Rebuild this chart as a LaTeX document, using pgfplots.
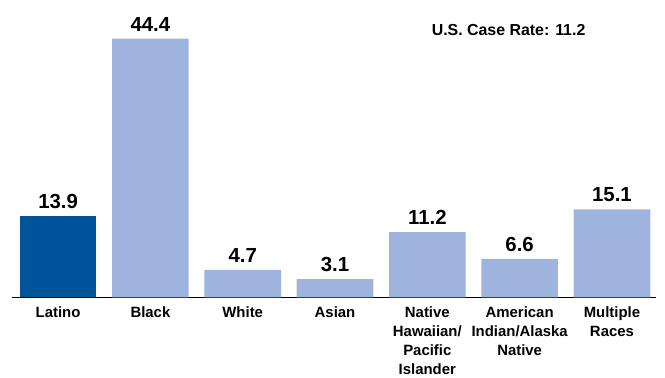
\documentclass[border=0pt]{standalone}
\usepackage{pgfplots}
\pgfplotsset{compat=1.18}
\usepackage{fontspec}
\setmainfont{Liberation Sans}
\definecolor{darkb}{HTML}{005499}
\definecolor{lightb}{HTML}{9EB3DD}
\begin{document}
\begin{tikzpicture}
\begin{axis}[
  scale only axis,
  width=648pt, height=296pt,
  xmin=-0.5, xmax=6.48,
  ymin=0, ymax=50.5,
  axis x line=bottom,
  axis y line=none,
  x axis line style={-, line width=1.6pt, black},
  xtick={0,1,2,3,4,5,6},
  xticklabels={Latino,Black,White,Asian,{Native\\Hawaiian/\\Pacific\\Islander},{American\\Indian/Alaska\\Native},{Multiple\\Races}},
  xticklabel style={font=\bfseries\fontsize{15}{19}\selectfont, align=center, text width=100pt, anchor=north, yshift=-6pt},
  major tick length=0pt,
  ybar, bar width=77pt,
  nodes near coords,
  nodes near coords style={font=\bfseries\fontsize{20.5}{22}\selectfont, anchor=south, yshift=4pt},
  /pgf/number format/.cd, fixed, fixed zerofill, precision=1, assume math mode=true,
]
\addplot[fill=darkb, draw=none, bar shift=0pt] coordinates {(0,13.9)};
\addplot[fill=lightb, draw=none, bar shift=0pt] coordinates {(1,44.4) (2,4.7) (3,3.1) (4,11.2) (5,6.6) (6,15.1)};
\node[font=\bfseries\fontsize{16}{18}\selectfont, anchor=center] at (axis cs:4.88,45.9) {U.S. Case Rate: 11.2};
\end{axis}
\path[use as bounding box] (-12pt,-78pt) rectangle (653pt,299pt);
\end{tikzpicture}
\end{document}
